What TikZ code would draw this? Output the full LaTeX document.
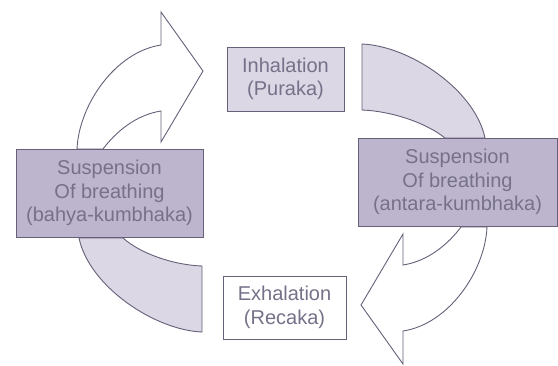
\documentclass[tikz,border=0pt]{standalone}
\usepackage{fontspec}
\setmainfont{Liberation Sans}
\definecolor{edge}{HTML}{676079}
\definecolor{txt}{HTML}{767189}
\definecolor{darkfill}{HTML}{BDB5CD}
\definecolor{lightfill}{HTML}{DCD7E5}
\begin{document}
\begin{tikzpicture}[x=1pt,y=-1pt,
  box/.style={draw=edge, line width=0.9pt, text=txt, align=center,
    font=\fontsize{20}{23.5}\selectfont, inner sep=0pt},
  band/.style={draw=edge, line width=0.9pt, fill=lightfill},
  arrowshape/.style={draw=edge, line width=0.9pt, fill=white}]
\useasboundingbox (0,0) rectangle (558,365);
\fill[white] (0,0) rectangle (558,365);

% upper-left white curved arrow
\draw[arrowshape] (77,149) .. controls (79,105) and (115,52) .. (161,45)
  -- (161,12) -- (203,71) -- (161,142) -- (161,111)
  .. controls (135,115) and (115,133) .. (103,149) -- cycle;
% lower-right white curved arrow (point-symmetric)
\begin{scope}[rotate around={180:(282,188)}]
\draw[arrowshape] (77,149) .. controls (79,105) and (115,52) .. (161,45)
  -- (161,12) -- (203,71) -- (161,142) -- (161,111)
  .. controls (135,115) and (115,133) .. (103,149) -- cycle;
\end{scope}

% upper-right band
\draw[band] (362,44) .. controls (410,46) and (475,90) .. (485,138)
  -- (445,138) .. controls (425,122) and (390,111) .. (362,110) -- cycle;
% lower-left band (point-symmetric)
\begin{scope}[rotate around={180:(282,188)}]
\draw[band] (362,44) .. controls (410,46) and (475,90) .. (485,138)
  -- (441,138) .. controls (423,122) and (390,111) .. (362,110) -- cycle;
\end{scope}

\node[box, fill=lightfill, minimum width=117pt, minimum height=64pt] (inh) at (285.5,79) {Inhalation\\(Puraka)};
\node[box, fill=white, minimum width=123pt, minimum height=63pt] (exh) at (284.5,307.5) {Exhalation\\(Recaka)};
\node[box, fill=darkfill, minimum width=187pt, minimum height=88pt] (susL) at (109.5,193) {Suspension\\Of breathing\\(bahya-kumbhaka)};
\node[box, fill=darkfill, minimum width=199pt, minimum height=88pt] (susR) at (457.5,182) {Suspension\\Of breathing\\(antara-kumbhaka)};
\end{tikzpicture}
\end{document}
